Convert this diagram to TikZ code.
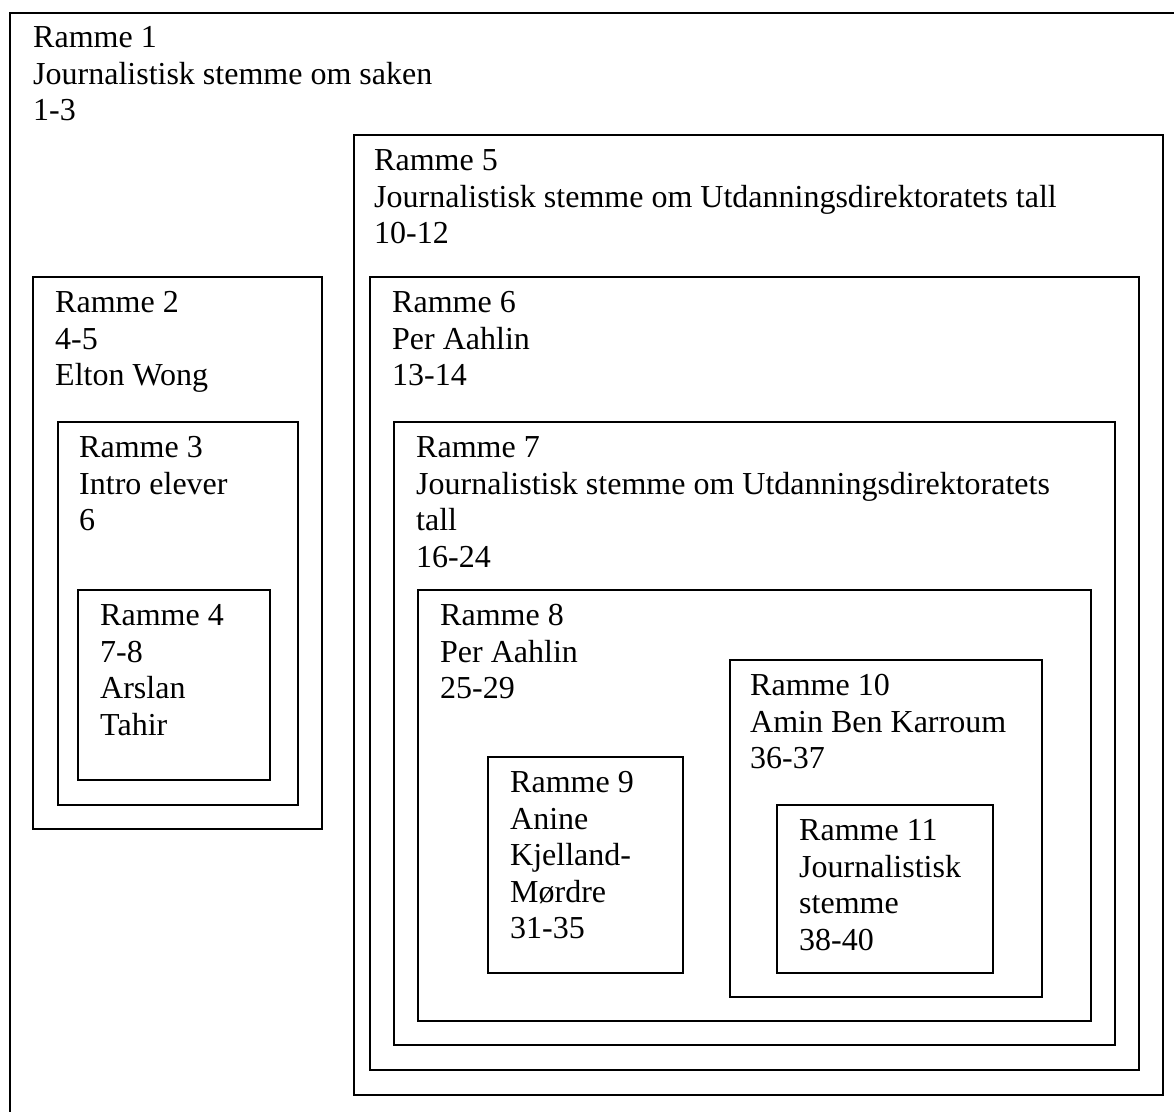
\documentclass[tikz,border=0pt]{standalone}
\usepackage{fontspec}
\setmainfont{Liberation Serif}
\tikzset{
  frame/.style={draw=black, line width=1.6pt},
  lbl/.style={anchor=north west, inner sep=0pt, align=left, font=\fontsize{32}{36.5}\selectfont, execute at begin node={\strut}},
}
\begin{document}
\begin{tikzpicture}[x=1pt,y=-1pt]
\useasboundingbox (0,0) rectangle (1174,1111);
\clip (0,0) rectangle (1174,1111);
% frames
\draw[frame] (10,13) rectangle (1190,1130);
\draw[frame] (354,135) rectangle (1163,1095);
\draw[frame] (370,277) rectangle (1139,1070);
\draw[frame] (394,422) rectangle (1115,1045);
\draw[frame] (418,590) rectangle (1091,1021);
\draw[frame] (488,757) rectangle (683,973);
\draw[frame] (730,660) rectangle (1042,997);
\draw[frame] (777,805) rectangle (993,973);
\draw[frame] (33,277) rectangle (322,829);
\draw[frame] (58,422) rectangle (298,805);
\draw[frame] (78,590) rectangle (270,780);
% labels (y = first baseline - 0.7*baselineskip)
\node[lbl] (t1) at (33,26.5) {Ramme 1\\Journalistisk stemme om saken\\1-3};
\node[lbl] (t5) at (374,149.5) {Ramme 5\\Journalistisk stemme om Utdanningsdirektoratets tall\\10-12};
\node[lbl] (t2) at (55,291.5) {Ramme 2\\4-5\\Elton Wong};
\node[lbl] (t3) at (79,436.5) {Ramme 3\\Intro elever\\6};
\node[lbl] (t4) at (100,604.5) {Ramme 4\\7-8\\Arslan\\Tahir};
\node[lbl] (t6) at (392,291.5) {Ramme 6\\Per Aahlin\\13-14};
\node[lbl] (t7) at (416,436.5) {Ramme 7\\Journalistisk stemme om Utdanningsdirektoratets\\tall\\16-24};
\node[lbl] (t8) at (440,604.5) {Ramme 8\\Per Aahlin\\25-29};
\node[lbl] (t10) at (750,674.5) {Ramme 10\\Amin Ben Karroum\\36-37};
\node[lbl] (t9) at (510,771.5) {Ramme 9\\Anine\\Kjelland-\\Mørdre\\31-35};
\node[lbl] (t11) at (799,819.5) {Ramme 11\\Journalistisk\\stemme\\38-40};
\end{tikzpicture}
\end{document}
